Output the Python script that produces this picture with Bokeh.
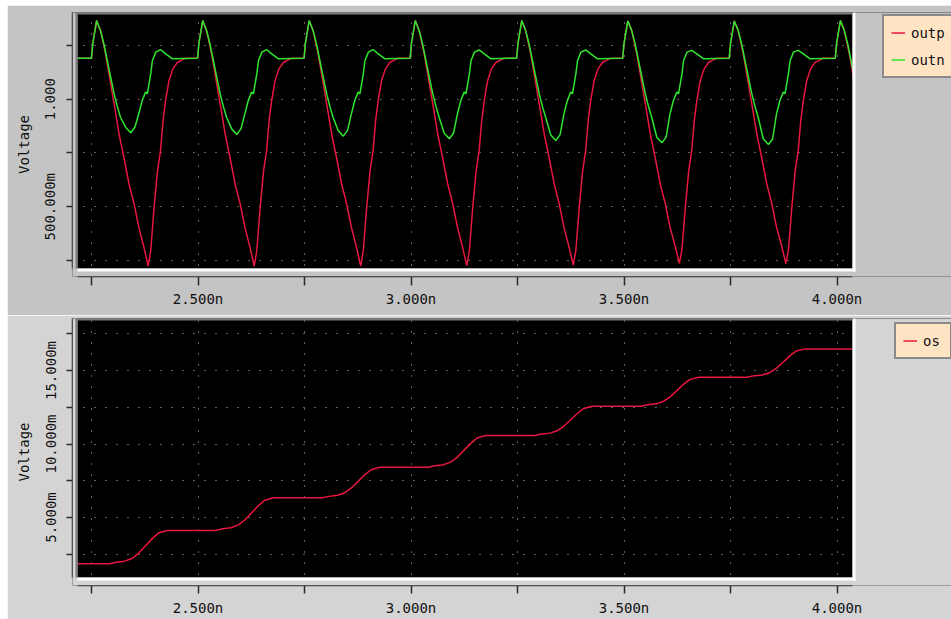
from bokeh.plotting import figure
from bokeh.models import Range1d, FixedTicker, BoxAnnotation, Legend, LegendItem
from bokeh.layouts import column
from bokeh.embed import file_html
from bokeh.resources import INLINE

# ---------------- data ----------------
# time in ns, voltage in V (top) and mV (bottom)
outp_t = [2.217,
          2.250, 2.253, 2.262, 2.271, 2.283, 2.295, 2.307, 2.315, 2.326, 2.338, 2.350, 2.361, 2.373, 2.383, 2.389, 2.397, 2.405, 2.412, 2.418, 2.424, 2.432, 2.441, 2.452, 2.463, 2.471,
          2.499, 2.502, 2.511, 2.520, 2.532, 2.544, 2.556, 2.564, 2.575, 2.587, 2.599, 2.610, 2.622, 2.632, 2.638, 2.646, 2.654, 2.661, 2.667, 2.673, 2.681, 2.690, 2.701, 2.712, 2.720,
          2.749, 2.752, 2.761, 2.770, 2.782, 2.794, 2.806, 2.814, 2.825, 2.837, 2.849, 2.860, 2.872, 2.882, 2.888, 2.896, 2.904, 2.911, 2.917, 2.923, 2.931, 2.940, 2.951, 2.962, 2.970,
          2.998, 3.001, 3.010, 3.019, 3.031, 3.043, 3.055, 3.063, 3.074, 3.086, 3.098, 3.109, 3.121, 3.131, 3.137, 3.145, 3.153, 3.160, 3.166, 3.172, 3.180, 3.189, 3.200, 3.211, 3.219,
          3.248, 3.251, 3.260, 3.269, 3.281, 3.293, 3.305, 3.313, 3.324, 3.336, 3.348, 3.359, 3.371, 3.381, 3.387, 3.395, 3.403, 3.410, 3.416, 3.422, 3.430, 3.439, 3.450, 3.461, 3.469,
          3.497, 3.500, 3.509, 3.518, 3.530, 3.542, 3.554, 3.562, 3.573, 3.585, 3.597, 3.608, 3.620, 3.630, 3.636, 3.644, 3.652, 3.659, 3.665, 3.671, 3.679, 3.688, 3.699, 3.710, 3.718,
          3.747, 3.750, 3.759, 3.768, 3.780, 3.792, 3.804, 3.812, 3.823, 3.835, 3.847, 3.858, 3.870, 3.880, 3.886, 3.894, 3.902, 3.909, 3.915, 3.921, 3.929, 3.938, 3.949, 3.960, 3.968,
          3.996, 3.999, 4.008, 4.017, 4.029, 4.041]
outp_v = [1.191,
          1.191, 1.258, 1.366, 1.320, 1.211, 1.072, 0.932, 0.835, 0.730, 0.607, 0.513, 0.405, 0.312, 0.224, 0.296, 0.498, 0.668, 0.761, 0.901, 0.994, 1.087, 1.141, 1.172, 1.183, 1.191,
          1.191, 1.258, 1.366, 1.320, 1.211, 1.072, 0.932, 0.835, 0.730, 0.607, 0.513, 0.405, 0.312, 0.224, 0.296, 0.498, 0.668, 0.761, 0.901, 0.994, 1.087, 1.141, 1.172, 1.183, 1.191,
          1.191, 1.258, 1.366, 1.320, 1.211, 1.072, 0.932, 0.835, 0.730, 0.607, 0.513, 0.405, 0.312, 0.224, 0.296, 0.498, 0.668, 0.761, 0.901, 0.994, 1.087, 1.141, 1.172, 1.183, 1.191,
          1.191, 1.258, 1.366, 1.320, 1.211, 1.072, 0.932, 0.835, 0.730, 0.607, 0.513, 0.405, 0.312, 0.226, 0.296, 0.498, 0.668, 0.761, 0.901, 0.994, 1.087, 1.141, 1.172, 1.183, 1.191,
          1.191, 1.258, 1.366, 1.320, 1.211, 1.072, 0.932, 0.835, 0.730, 0.607, 0.513, 0.405, 0.312, 0.228, 0.296, 0.498, 0.668, 0.761, 0.901, 0.994, 1.087, 1.141, 1.172, 1.183, 1.191,
          1.191, 1.258, 1.364, 1.320, 1.211, 1.072, 0.932, 0.835, 0.730, 0.607, 0.513, 0.405, 0.318, 0.236, 0.300, 0.498, 0.668, 0.761, 0.901, 0.994, 1.087, 1.141, 1.172, 1.183, 1.191,
          1.191, 1.258, 1.364, 1.320, 1.211, 1.072, 0.932, 0.835, 0.730, 0.607, 0.513, 0.405, 0.318, 0.236, 0.300, 0.498, 0.668, 0.761, 0.901, 0.994, 1.087, 1.141, 1.172, 1.183, 1.191,
          1.191, 1.258, 1.366, 1.320, 1.211, 1.072]

outn_t = [2.217,
          2.250, 2.253, 2.262, 2.271, 2.279, 2.287, 2.295, 2.303, 2.311, 2.318, 2.330, 2.342, 2.352, 2.361, 2.369, 2.377, 2.381, 2.389, 2.393, 2.401, 2.412, 2.424, 2.440,
          2.499, 2.502, 2.511, 2.520, 2.528, 2.536, 2.544, 2.552, 2.560, 2.567, 2.579, 2.591, 2.601, 2.610, 2.618, 2.626, 2.630, 2.638, 2.642, 2.650, 2.661, 2.673, 2.689,
          2.749, 2.752, 2.761, 2.770, 2.778, 2.786, 2.794, 2.802, 2.810, 2.817, 2.829, 2.841, 2.851, 2.860, 2.868, 2.876, 2.880, 2.888, 2.892, 2.900, 2.911, 2.923, 2.939,
          2.998, 3.001, 3.010, 3.019, 3.027, 3.035, 3.043, 3.051, 3.059, 3.066, 3.078, 3.090, 3.100, 3.109, 3.117, 3.125, 3.129, 3.137, 3.141, 3.149, 3.160, 3.172, 3.188,
          3.248, 3.251, 3.260, 3.269, 3.277, 3.285, 3.293, 3.301, 3.309, 3.316, 3.328, 3.340, 3.350, 3.359, 3.367, 3.375, 3.379, 3.387, 3.391, 3.399, 3.410, 3.422, 3.438,
          3.497, 3.500, 3.509, 3.518, 3.526, 3.534, 3.542, 3.550, 3.558, 3.565, 3.577, 3.589, 3.599, 3.608, 3.616, 3.624, 3.628, 3.636, 3.640, 3.648, 3.659, 3.671, 3.687,
          3.747, 3.750, 3.759, 3.768, 3.776, 3.784, 3.792, 3.800, 3.808, 3.815, 3.827, 3.839, 3.849, 3.858, 3.866, 3.874, 3.878, 3.886, 3.890, 3.898, 3.909, 3.921, 3.937,
          3.996, 3.999, 4.008, 4.017, 4.025, 4.033, 4.041]
outn_v = [1.191,
          1.191, 1.258, 1.366, 1.320, 1.258, 1.180, 1.102, 1.025, 0.963, 0.916, 0.870, 0.844, 0.871, 0.932, 0.994, 1.033, 1.025, 1.118, 1.180, 1.219, 1.231, 1.211, 1.188,
          1.191, 1.258, 1.366, 1.320, 1.258, 1.180, 1.102, 1.025, 0.963, 0.916, 0.862, 0.836, 0.863, 0.932, 0.994, 1.033, 1.025, 1.118, 1.180, 1.219, 1.231, 1.211, 1.188,
          1.191, 1.258, 1.366, 1.320, 1.258, 1.180, 1.102, 1.025, 0.963, 0.916, 0.854, 0.828, 0.855, 0.932, 0.994, 1.033, 1.025, 1.118, 1.180, 1.219, 1.231, 1.211, 1.188,
          1.191, 1.258, 1.366, 1.320, 1.258, 1.180, 1.102, 1.025, 0.963, 0.916, 0.842, 0.816, 0.843, 0.932, 0.994, 1.033, 1.025, 1.118, 1.180, 1.219, 1.229, 1.211, 1.188,
          1.191, 1.258, 1.366, 1.320, 1.258, 1.180, 1.102, 1.025, 0.963, 0.916, 0.834, 0.808, 0.835, 0.932, 0.994, 1.033, 1.025, 1.118, 1.180, 1.219, 1.229, 1.211, 1.188,
          1.191, 1.258, 1.364, 1.320, 1.258, 1.180, 1.102, 1.025, 0.963, 0.916, 0.823, 0.797, 0.824, 0.932, 0.994, 1.033, 1.025, 1.118, 1.180, 1.219, 1.227, 1.211, 1.188,
          1.191, 1.258, 1.364, 1.320, 1.258, 1.180, 1.102, 1.025, 0.963, 0.916, 0.815, 0.789, 0.816, 0.932, 0.994, 1.033, 1.025, 1.118, 1.180, 1.219, 1.227, 1.211, 1.188,
          1.191, 1.258, 1.366, 1.320, 1.258, 1.180, 1.102]

os_t = [2.217,
        2.293, 2.305, 2.328, 2.345, 2.361, 2.377, 2.393, 2.407, 2.428,
        2.542, 2.554, 2.577, 2.594, 2.610, 2.626, 2.642, 2.656, 2.677,
        2.792, 2.804, 2.827, 2.844, 2.860, 2.876, 2.892, 2.906, 2.927,
        3.041, 3.053, 3.076, 3.093, 3.109, 3.125, 3.141, 3.155, 3.176,
        3.291, 3.303, 3.326, 3.343, 3.359, 3.375, 3.391, 3.405, 3.426,
        3.540, 3.552, 3.575, 3.592, 3.608, 3.624, 3.640, 3.654, 3.675,
        3.790, 3.802, 3.825, 3.842, 3.858, 3.874, 3.890, 3.904, 3.925,
        4.040]
os_v = [1.85,
        1.85, 1.94, 2.03, 2.21, 2.58, 3.08, 3.58, 3.94, 4.12,
        4.12, 4.21, 4.30, 4.48, 4.83, 5.32, 5.81, 6.16, 6.34,
        6.34, 6.42, 6.51, 6.67, 7.01, 7.46, 7.92, 8.25, 8.42,
        8.42, 8.51, 8.59, 8.77, 9.11, 9.59, 10.06, 10.41, 10.58,
        10.58, 10.66, 10.74, 10.90, 11.22, 11.65, 12.09, 12.41, 12.57,
        12.57, 12.65, 12.73, 12.89, 13.20, 13.63, 14.07, 14.38, 14.54,
        14.54, 14.62, 14.69, 14.85, 15.16, 15.58, 16.01, 16.32, 16.47,
        16.47]

x_ticks = [2.25, 2.5, 2.75, 3, 3.25, 3.5, 3.75, 4]
x_tick_labels = {2.25: "", 2.5: "2.500n", 2.75: "", 3: "3.000n",
                 3.25: "", 3.5: "3.500n", 3.75: "", 4: "4.000n"}
top_y_ticks = [0.25, 0.5, 0.75, 1, 1.25]
top_y_labels = {0.25: "", 0.5: "500.000m", 0.75: "", 1: "1.000", 1.25: ""}
bot_y_ticks = [2.5, 5, 7.5, 10, 12.5, 15, 17.5]
bot_y_labels = {2.5: "", 5: "5.000m", 7.5: "", 10: "10.000m",
                12.5: "", 15: "15.000m", 17.5: ""}

# ---------------- layout / style ----------------
FONT = "DejaVu Sans Mono"
RED = "#e8173f"
GREEN = "#2ee62e"
PX_NS = 426.0                      # pixels per ns
FRAME_W = 879                      # frame runs to the right window edge (legend lives inside it)
X_LEFT = 2.25 - 19 / PX_NS         # frame left (axis line)
X_RIGHT = X_LEFT + FRAME_W / PX_NS # frame right
X_BLACK0 = 2.25 - 14 / PX_NS       # start of black plot area
X_BLACK1 = 2.25 + 761 / PX_NS      # end of black plot area

TOP_PX_V = 215.0
TOP_Y0 = 1 - (276 - 98.7) / TOP_PX_V
TOP_Y1 = 1 + (98.7 - 12) / TOP_PX_V
TOP_YB = 1 - (268 - 98.7) / TOP_PX_V

BOT_PX_MV = 14.7
BOT_Y0 = 15 - (585 - 370) / BOT_PX_MV
BOT_Y1 = 15 + (370 - 318) / BOT_PX_MV
BOT_YB = 15 - (577 - 370) / BOT_PX_MV


def box(**kw):
    return BoxAnnotation(fill_alpha=1.0, line_color=None, level="annotation", **kw)


def make_fig(frame_h, bg, y0, y1, yb, px_y, mb_top, mb_bottom,
             yticks, ylabels, xtick_out, xstandoff, margin):
    p = figure(frame_width=FRAME_W, frame_height=frame_h, title=None,
               x_range=Range1d(X_LEFT, X_RIGHT), y_range=Range1d(y0, y1),
               output_backend="svg", toolbar_location=None,
               min_border_left=65, min_border_right=0,
               min_border_top=mb_top, min_border_bottom=mb_bottom)
    p.margin = margin
    p.background_fill_color = "black"
    p.border_fill_color = bg
    p.outline_line_color = None

    xt = FixedTicker(ticks=x_ticks)
    yt = FixedTicker(ticks=yticks)
    p.xaxis.ticker = xt
    p.yaxis.ticker = yt
    p.xgrid.ticker = xt
    p.ygrid.ticker = yt
    for g in (p.xgrid, p.ygrid):
        g.grid_line_color = "#bcbcbc"
        g.grid_line_width = 1
        g.grid_line_dash = "1 10"

    p.xaxis.major_label_overrides = x_tick_labels
    p.yaxis.major_label_overrides = ylabels
    p.xaxis.bounds = (X_BLACK0, X_BLACK1)
    p.yaxis.bounds = (yb, y1)
    for ax in (p.xaxis, p.yaxis):
        ax.axis_line_color = "#2a2a2a"
        ax.axis_line_width = 1.5
        ax.major_tick_line_color = "#2a2a2a"
        ax.major_tick_line_width = 1.5
        ax.major_tick_in = 0
        ax.minor_tick_line_color = None
        ax.major_label_text_font = FONT
        ax.major_label_text_font_size = "14px"
        ax.major_label_text_color = "#111111"
    p.xaxis.major_tick_out = xtick_out
    p.xaxis.major_label_standoff = xstandoff
    p.yaxis.major_tick_out = 6
    p.yaxis.major_label_standoff = 8
    p.yaxis.major_label_orientation = "vertical"
    p.yaxis.axis_label = "Voltage"
    p.yaxis.axis_label_text_font = FONT
    p.yaxis.axis_label_text_font_size = "14px"
    p.yaxis.axis_label_text_font_style = "normal"
    p.yaxis.axis_label_text_color = "#111111"
    p.yaxis.axis_label_standoff = 8

    # grey surroundings of the black plot area, with sunken 3D edges
    p.add_layout(box(right=X_BLACK0, fill_color=bg))
    p.add_layout(box(left=X_BLACK1, fill_color=bg))
    p.add_layout(box(top=yb, fill_color=bg))
    p.add_layout(box(left=X_BLACK0, right=X_BLACK1 + 3 / PX_NS,
                     top=yb, bottom=yb - 3 / px_y, fill_color="white"))
    p.add_layout(box(left=X_BLACK1, right=X_BLACK1 + 3 / PX_NS,
                     bottom=yb - 3 / px_y, fill_color="white"))
    p.add_layout(box(left=X_BLACK0 - 2 / PX_NS, right=X_BLACK0,
                     bottom=yb, fill_color="#7c7c7c"))
    p.add_layout(box(left=X_BLACK0 - 2 / PX_NS, right=X_BLACK1,
                     bottom=y1 - 2 / px_y, fill_color="#7c7c7c"))
    return p


def style_legend(lg):
    lg.margin = 0
    lg.padding = 7
    lg.spacing = 8
    lg.glyph_width = 14
    lg.glyph_height = 19
    lg.label_height = 19
    lg.label_standoff = 6
    lg.label_text_font = FONT
    lg.label_text_font_size = "14px"
    lg.label_text_color = "#111111"
    lg.background_fill_color = "#ffe4c4"
    lg.background_fill_alpha = 1.0
    lg.border_line_color = "#8a8a8a"
    lg.border_line_width = 2
    lg.border_line_alpha = 1.0


# ---- top: outp / outn ----
p1 = make_fig(264, "#c4c4c4", TOP_Y0, TOP_Y1, TOP_YB, TOP_PX_V, 7, 39,
              top_y_ticks, top_y_labels, 9, 5, (5, 0, 0, 7))
r_p = p1.line(outp_t, outp_v, line_color=RED, line_width=1.5)
r_n = p1.line(outn_t, outn_v, line_color=GREEN, line_width=1.5)
leg1 = Legend(items=[LegendItem(label="outp", renderers=[r_p]),
                     LegendItem(label="outn", renderers=[r_n])],
              location=(810, 198))
style_legend(leg1)
p1.add_layout(leg1, "center")

# ---- bottom: os ----
p2 = make_fig(267, "#d4d4d4", BOT_Y0, BOT_Y1, BOT_YB, BOT_PX_MV, 3, 34,
              bot_y_ticks, bot_y_labels, 8, 6, (0, 0, 0, 7))
r_o = p2.line(os_t, os_v, line_color=RED, line_width=1.5)
leg2 = Legend(items=[LegendItem(label="os", renderers=[r_o])],
              location=(822, 226))
style_legend(leg2)
p2.add_layout(leg2, "center")

layout = column(p1, p2)
open("out.html", "w").write(file_html(layout, INLINE, title="Voltage"))
